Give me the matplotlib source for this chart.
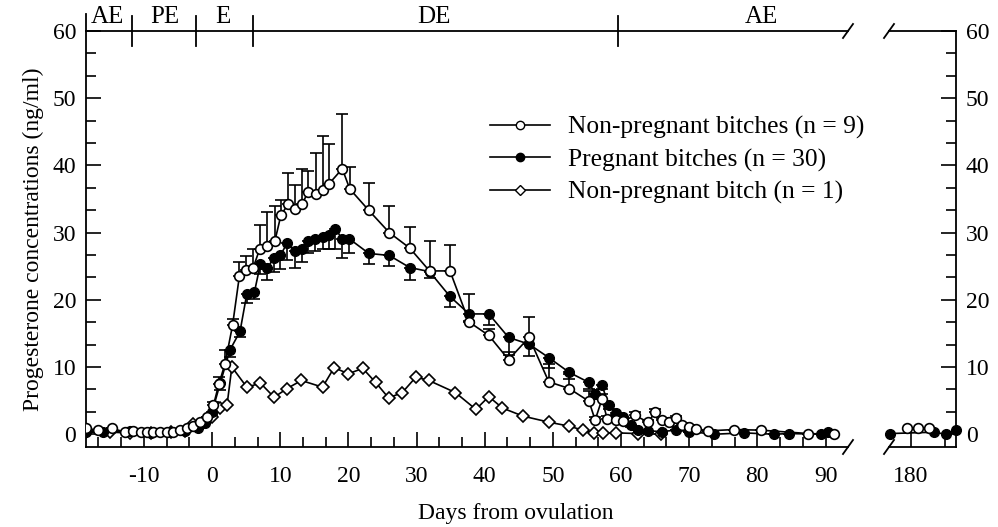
import matplotlib
matplotlib.use('Agg')
import matplotlib.pyplot as plt
import numpy as np
from matplotlib.ticker import MultipleLocator, FixedLocator
from matplotlib.lines import Line2D

plt.rcParams['font.family'] = ['Liberation Serif', 'DejaVu Serif']

# ---------------- data ----------------
# Non-pregnant bitches (n = 9): open circles, upper SEM bars
np9_days = [-18.5, -16.8, -14.7, -12.8, -11.6, -10.5, -9.6, -8.6, -7.6, -6.6, -5.7, -4.7,
            -3.7, -2.8, -1.8, -0.8, 0.2, 1.0, 1.9, 3.0, 4.0, 5.0, 6.0, 7.0, 8.0, 9.2, 10.1,
            11.2, 12.2, 13.2, 14.1, 15.2, 16.2, 17.1, 19.1, 20.2, 23.0, 26.0, 29.0, 31.9,
            34.9, 37.7, 40.6, 43.5, 46.5, 49.4, 52.4, 55.3, 56.2, 57.2, 58.0, 59.3, 60.3,
            62.0, 64.0, 65.0, 66.0, 67.0, 68.0, 69.0, 70.0, 71.0, 72.8, 76.6, 80.6, 87.5, 91.3]
np9_vals = [0.9, 0.6, 0.9, 0.3, 0.5, 0.3, 0.3, 0.3, 0.3, 0.3, 0.4, 0.7,
            0.9, 1.2, 1.8, 2.6, 4.3, 7.5, 10.5, 16.2, 23.5, 24.5, 24.7, 27.6, 28.0, 28.7, 32.6,
            34.3, 33.5, 34.2, 36.1, 35.8, 36.3, 37.2, 39.5, 36.5, 33.3, 30.0, 27.7, 24.3,
            24.3, 16.7, 14.7, 11.1, 14.4, 7.8, 6.8, 4.9, 2.1, 5.2, 2.2, 2.1, 1.9,
            2.8, 1.8, 3.3, 2.1, 1.8, 2.4, 1.4, 1.1, 0.8, 0.5, 0.7, 0.6, 0.1, 0.0]
np9_err = [0, 0, 0, 0, 0, 0, 0, 0, 0, 0, 0, 0,
           0, 0, 0, 0, 0.5, 1.0, 2.0, 1.0, 2.1, 2.0, 2.8, 3.6, 5.0, 5.3, 2.2,
           4.6, 3.6, 5.2, 3.0, 6.1, 8.1, 6.0, 8.2, 3.3, 4.1, 3.9, 3.2, 4.5,
           3.8, 4.1, 1.0, 1.1, 3.1, 2.7, 2.1, 1.5, 0.5, 0.8, 0.5, 0.4, 0.3,
           0.5, 0.3, 0.5, 0.3, 0.3, 0.3, 0.2, 0.2, 0, 0, 0, 0, 0, 0]

# Pregnant bitches (n = 30): filled circles, lower SEM bars
pr_days = [-18.5, -16.0, -12.0, -9.0, -6.0, -4.0, -2.0, -1.0, 0.0, 1.2, 2.6, 4.1, 5.1, 6.2,
           7.1, 8.1, 9.1, 10.0, 11.0, 12.2, 13.2, 14.1, 15.1, 16.2, 17.1, 18.1, 19.1, 20.1,
           23.0, 26.0, 29.0, 31.9, 34.9, 37.7, 40.6, 43.5, 46.5, 49.4, 52.4, 55.3, 56.2,
           57.2, 58.2, 59.3, 60.3, 61.5, 62.5, 64.0, 66.0, 68.0, 70.0, 73.7, 78.0, 82.5,
           84.6, 89.4, 90.4]
pr_vals = [0.4, 0.3, 0.5, 0.2, 0.3, 0.5, 1.0, 1.7, 3.3, 7.6, 12.5, 15.3, 20.9, 21.1,
           25.4, 24.8, 26.2, 26.6, 28.4, 27.3, 27.6, 28.8, 29.1, 29.3, 29.6, 30.5, 29.1, 29.1,
           26.9, 26.6, 24.8, 24.2, 20.5, 17.9, 17.9, 14.4, 13.4, 11.4, 9.2, 7.7, 6.0,
           7.3, 4.3, 3.1, 2.5, 1.3, 0.6, 0.5, 0.4, 0.6, 0.4, 0.0, 0.2, 0.0,
           0.1, 0.0, 0.3]
pr_err = [0, 0, 0, 0, 0, 0, 0, 0, 0.5, 1.0, 1.0, 0.9, 1.3, 1.0,
          1.5, 1.8, 2.0, 2.0, 2.5, 2.5, 2.0, 1.8, 1.8, 1.8, 2.0, 3.0, 2.9, 2.2,
          1.5, 1.6, 1.9, 1.0, 1.5, 1.0, 1.7, 2.6, 1.7, 1.6, 1.0, 1.0, 0.5,
          0.5, 0.5, 0.3, 0.3, 0.2, 0, 0, 0, 0, 0, 0, 0, 0,
          0, 0, 0]

# Non-pregnant bitch (n = 1): open diamonds
np1_days = [-18.5, -15.0, -12.0, -9.0, -6.0, -4.0, -2.8, -1.3, 0.0, 1.1, 2.2, 2.9, 5.1, 7.1,
            9.1, 11.0, 13.1, 16.2, 17.9, 20.0, 22.1, 24.0, 25.9, 27.9, 29.9, 31.8, 35.7,
            38.7, 40.6, 42.6, 45.6, 49.4, 52.4, 54.4, 56.0, 57.3, 59.3, 62.5, 65.9]
np1_vals = [0.3, 0.3, 0.2, 0.2, 0.3, 0.5, 1.5, 1.7, 2.5, 3.9, 4.4, 10.0, 7.0, 7.6,
            5.5, 6.8, 8.0, 7.0, 9.9, 9.0, 9.8, 7.7, 5.4, 6.2, 8.5, 8.0, 6.2,
            3.7, 5.6, 3.9, 2.7, 1.8, 1.2, 0.6, 0.2, 0.2, 0.2, 0.1, 0.0]

# late samples (around day 180)
late_np9_days = [179.5, 181.0, 182.6]
late_np9_vals = [1.0, 1.0, 1.0]
late_pr_days = [176.9, 183.4, 185.1, 186.6]
late_pr_vals = [0.1, 0.3, 0.0, 0.6]

# phases of the cycle
phase_bounds = [-11.8, -2.35, 6.0, 59.6]
phase_labels = ['AE', 'PE', 'E', 'DE', 'AE']
phase_label_x = [-15.3, -6.9, 1.6, 32.5, 80.6]

xticks_main = [-10, 0, 10, 20, 30, 40, 50, 60, 70, 80, 90]
xtick_labels_main = ['-10', '0', '10', '20', '30', '40', '50', '60', '70', '80', '90']
yticks = [0, 10, 20, 30, 40, 50, 60]

# ---------------- figure ----------------
W, H = 998, 527
fig = plt.figure(figsize=(W / 100, H / 100), dpi=100)
bot = 1 - 447 / H
hgt = (447 - 31) / H
ax = fig.add_axes([86 / W, bot, (848 - 86) / W, hgt])
ax2 = fig.add_axes([889 / W, bot, (956 - 889) / W, hgt])

YMIN, YMAX = -1.9, 60
ax.set_xlim(-18.5, 93.3)
ax.set_ylim(YMIN, YMAX)
ax2.set_xlim(176.8, 186.6)
ax2.set_ylim(YMIN, YMAX)

LW = 1.2
MS = 7
FS = 17

common = dict(color='black', lw=LW, capsize=4.5, elinewidth=LW, capthick=LW)

# n=1 diamonds
ax.plot(np1_days, np1_vals, '-', color='black', lw=LW, marker='D', ms=6,
        mfc='white', mec='black', mew=1.2, zorder=3)
# pregnant, lower error bars
ax.errorbar(pr_days, pr_vals, yerr=[pr_err, [0] * len(pr_err)], fmt='-o', ms=MS,
            mfc='black', mec='black', zorder=4, **common)
# non-pregnant n=9, upper error bars
ax.errorbar(np9_days, np9_vals, yerr=[[0] * len(np9_err), np9_err], fmt='-o', ms=MS,
            mfc='white', mec='black', mew=1.2, zorder=5, **common)

ax2.plot(late_pr_days, late_pr_vals, '-o', color='black', lw=LW, ms=MS, mfc='black',
         clip_on=False, zorder=4)
ax2.plot(late_np9_days, late_np9_vals, '-o', color='black', lw=LW, ms=MS, mfc='white',
         mec='black', mew=1.2, clip_on=False, zorder=5)

# spines
for a in (ax, ax2):
    for s in a.spines.values():
        s.set_linewidth(1.3)
ax.spines['right'].set_visible(False)
ax2.spines['left'].set_visible(False)

# ticks
ax.xaxis.set_major_locator(FixedLocator(xticks_main))
ax.set_xticklabels(xtick_labels_main)
ax.xaxis.set_minor_locator(MultipleLocator(10 / 3))
ax.yaxis.set_major_locator(FixedLocator(yticks))
ax.yaxis.set_minor_locator(MultipleLocator(10 / 3))
ax.tick_params(axis='both', which='major', direction='in', length=11, width=1.2,
               labelsize=FS, top=False, right=False)
ax.tick_params(axis='both', which='minor', direction='in', length=7, width=1.2,
               top=False, right=False)
ax.tick_params(axis='x', which='major', pad=14)
ax.tick_params(axis='y', which='major', pad=7)

ax2.xaxis.set_major_locator(FixedLocator([180]))
ax2.xaxis.set_minor_locator(FixedLocator([185]))
ax2.yaxis.set_major_locator(FixedLocator(yticks))
ax2.yaxis.set_minor_locator(MultipleLocator(10 / 3))
ax2.yaxis.tick_right()
ax2.tick_params(axis='both', which='major', direction='in', length=11, width=1.2,
                labelsize=FS, top=False, left=False, right=True)
ax2.tick_params(axis='both', which='minor', direction='in', length=7, width=1.2,
                top=False, left=False, right=True)
ax2.tick_params(axis='x', which='major', pad=14)
ax2.tick_params(axis='y', which='major', pad=7)

ax.set_xlabel('Days from ovulation', fontsize=FS, labelpad=8)
ax.xaxis.set_label_coords((516 - 86) / (848 - 86), -0.135)
ax.set_ylabel('Progesterone concentrations (ng/ml)', fontsize=FS, labelpad=6)

# phase markers on the top line
dy = 2.3
for b in phase_bounds:
    ax.plot([b, b], [YMAX - dy, YMAX + dy], color='black', lw=1.3, clip_on=False)
ax.plot([-18.5, -18.5], [YMAX, YMAX + 2.5], color='black', lw=1.3, clip_on=False)
for lab, x in zip(phase_labels, phase_label_x):
    ax.text(x, YMAX + 0.5, lab, ha='center', va='bottom', fontsize=18)

# break marks
def slash(axis, xa, ya):
    tr = axis.transAxes
    x0, y0 = tr.transform((xa, ya))
    inv = fig.transFigure.inverted()
    p0 = inv.transform((x0 - 5, y0 - 7))
    p1 = inv.transform((x0 + 5, y0 + 7))
    fig.add_artist(Line2D([p0[0], p1[0]], [p0[1], p1[1]], color='black', lw=1.3))

slash(ax, 1.0, 1.0)
slash(ax, 1.0, 0.0)
slash(ax2, 0.0, 1.0)
slash(ax2, 0.0, 0.0)

# legend
handles = [
    Line2D([], [], color='black', lw=LW, marker='o', ms=6, mfc='white', mec='black'),
    Line2D([], [], color='black', lw=LW, marker='o', ms=6, mfc='black', mec='black'),
    Line2D([], [], color='black', lw=LW, marker='D', ms=5, mfc='white', mec='black'),
]
labels = ['Non-pregnant bitches (n = 9)', 'Pregnant bitches (n = 30)',
          'Non-pregnant bitch (n = 1)']
ax.legend(handles, labels, loc='upper left', bbox_to_anchor=(490 / W, 1 - 116 / H),
          bbox_transform=fig.transFigure, frameon=False, fontsize=18.4,
          handlelength=2.35, handletextpad=0.7, labelspacing=0.36, borderpad=0,
          borderaxespad=0)

fig.savefig('out.png', dpi=100)
